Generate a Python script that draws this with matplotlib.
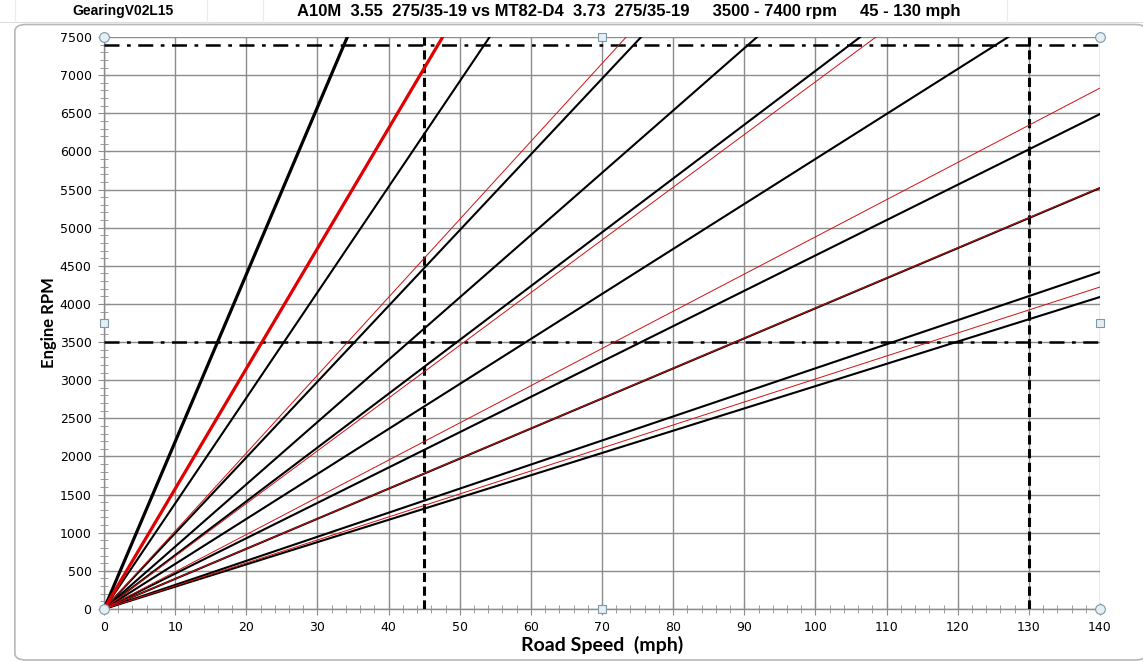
import numpy as np
import matplotlib
matplotlib.use("Agg")
from matplotlib import pyplot as plt
from matplotlib.patches import FancyBboxPatch
from matplotlib.ticker import MultipleLocator

# A10M 3.55 (black) - road speed (mph) / engine rpm at line end
a10m_mph = [[0, 34.2], [0, 54.2], [0, 75.5], [0, 91.8], [0, 106.3],
            [0, 127.1], [0, 140], [0, 140], [0, 140], [0, 140]]
a10m_rpm = [[0, 7500], [0, 7500], [0, 7500], [0, 7500], [0, 7500],
            [0, 7500], [0, 6490], [0, 5520], [0, 4418], [0, 4091]]

# MT82-D4 3.73 (red)
mt82_mph = [[0, 47.6], [0, 73.4], [0, 108.5], [0, 140], [0, 140], [0, 140]]
mt82_rpm = [[0, 7500], [0, 7500], [0, 7500], [0, 6831], [0, 5525], [0, 4222]]

rpm_limits = [3500, 7400]
mph_limits = [45, 130]

title_left = 'GearingV02L15'
title_main = 'A10M  3.55  275/35-19 vs MT82-D4  3.73  275/35-19     3500 - 7400 rpm     45 - 130 mph'

fig = plt.figure(figsize=(11.43, 6.62), dpi=100)

# excel sheet background: cell lines and chart area frame
fig.add_artist(plt.Line2D([0, 1], [0.967, 0.967], color='#dcdcdc', lw=0.8, zorder=-5))
for xx in [0.013, 0.181, 0.230, 0.831, 0.881]:
    fig.add_artist(plt.Line2D([xx, xx], [0.967, 1.0], color='#ececec', lw=0.8, zorder=-5))
fig.add_artist(FancyBboxPatch((0.013, 0.003), 0.99, 0.960,
                              boxstyle='round,pad=0,rounding_size=0.01',
                              transform=fig.transFigure, fc='white',
                              ec='#b8b8b8', lw=1.2, zorder=-4))

fig.text(0.063, 0.983, title_left, fontsize=10, fontweight='bold',
         family='Liberation Sans', va='center')
fig.text(0.260, 0.983, title_main, fontsize=12, fontweight='bold',
         family='Liberation Sans', va='center')

ax = fig.add_axes([0.0910, 0.0801, 0.8714, 0.8640])
ax.patch.set_alpha(0)

for i, (xs, ys) in enumerate(zip(a10m_mph, a10m_rpm)):
    ax.plot(xs, ys, color='black', lw=2.3 if i == 0 else 1.5, zorder=4)
for i, (xs, ys) in enumerate(zip(mt82_mph, mt82_rpm)):
    ax.plot(xs, ys, color='#e00000' if i == 0 else '#d01010',
            lw=2.3 if i == 0 else 0.7, zorder=5)

for r in rpm_limits:
    ax.axhline(r, color='black', lw=1.8, ls=(0, (6, 3, 1.5, 3)), zorder=3)
for m in mph_limits:
    ax.axvline(m, color='black', lw=2.2, ls=(0, (3, 1.5)), zorder=3)

ax.set_xlim(0, 140)
ax.set_ylim(0, 7500)
ax.xaxis.set_major_locator(MultipleLocator(10))
ax.xaxis.set_minor_locator(MultipleLocator(2))
ax.yaxis.set_major_locator(MultipleLocator(500))
ax.yaxis.set_minor_locator(MultipleLocator(100))
ax.grid(True, which='major', color='#8c8c8c', lw=1.0, zorder=1)
ax.set_axisbelow(True)

for s in ['top', 'right']:
    ax.spines[s].set_visible(False)
for s in ['left', 'bottom']:
    ax.spines[s].set_color('#8c8c8c')
    ax.spines[s].set_linewidth(1.0)
ax.tick_params(which='major', direction='inout', length=8, color='#8c8c8c',
               labelsize=9, pad=5)
ax.tick_params(which='minor', direction='inout', length=6, color='#8c8c8c')
for lab in ax.get_xticklabels() + ax.get_yticklabels():
    lab.set_family('DejaVu Sans')

ax.set_xlabel('Road Speed  (mph)', fontsize=14, fontweight='bold',
              family='Lato', labelpad=1)
ax.set_ylabel('Engine RPM', fontsize=12, fontweight='bold',
              family='Lato', labelpad=2)

# chart selection handles
for hx, hy in [(0, 0), (1, 0), (0, 1), (1, 1)]:
    ax.plot(hx, hy, 'o', ms=7, mfc='#e6eef2', mec='#7a9aaa', mew=0.8,
            transform=ax.transAxes, clip_on=False, zorder=10)
for hx, hy in [(0.5, 0), (0.5, 1), (0, 0.5), (1, 0.5)]:
    ax.plot(hx, hy, 's', ms=6, mfc='#e6eef2', mec='#7a9aaa', mew=0.8,
            transform=ax.transAxes, clip_on=False, zorder=10)

fig.savefig('out.png', dpi=100)
